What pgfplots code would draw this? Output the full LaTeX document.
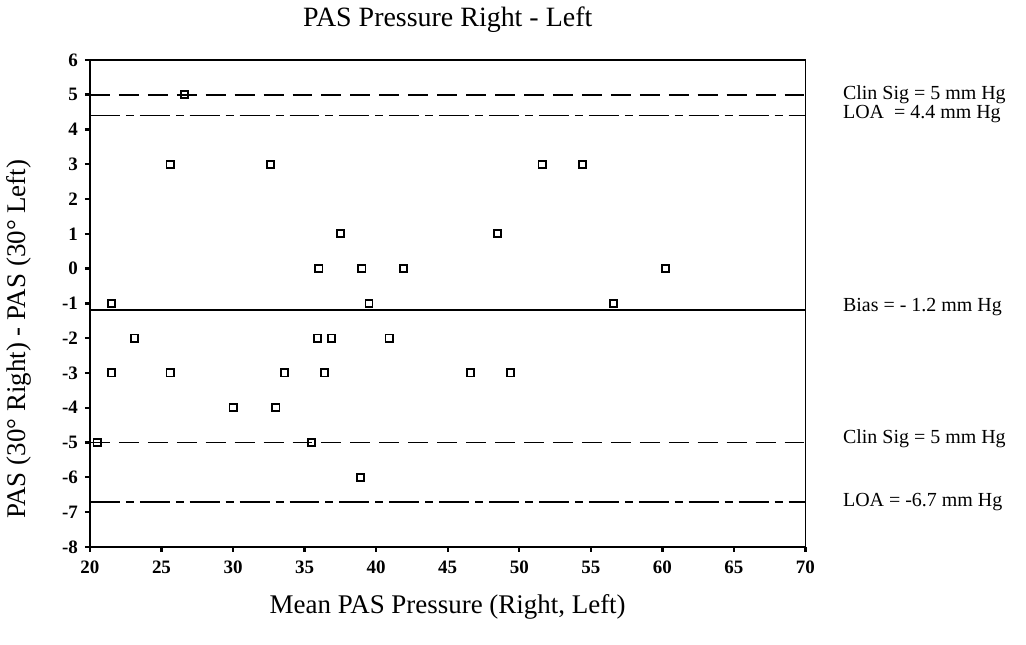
\documentclass[border=0pt]{standalone}
\usepackage{fontspec}
\setmainfont{Liberation Serif}
\usepackage{pgfplots}
\pgfplotsset{compat=1.18}
\usetikzlibrary{calc}

\pgfplotstableread{
x y
26.6 5
25.6 3
32.6 3
51.6 3
54.4 3
37.5 1
48.5 1
36.0 0
39.0 0
41.9 0
60.2 0
21.5 -1
39.5 -1
56.6 -1
23.1 -2
35.9 -2
36.9 -2
40.9 -2
21.5 -3
25.6 -3
33.6 -3
36.4 -3
46.6 -3
49.4 -3
30.0 -4
33.0 -4
20.5 -5
35.5 -5
38.9 -6
}\diffs

\begin{document}
\begin{tikzpicture}
\begin{axis}[
  scale only axis,
  width=358.5pt, height=244pt,
  xmin=20, xmax=70, ymin=-8, ymax=6,
  xtick={20,25,...,70},
  ytick={-8,-7,...,6},
  axis line style={line width=0.9pt},
  tick style={line width=1.2pt, black},
  major tick length=2.5pt,
  tick align=outside,
  xtick pos=bottom, ytick pos=left,
  /pgf/number format/assume math mode=true,
  tick label style={font=\fontsize{9.5}{11}\selectfont\bfseries},
  xticklabel style={yshift=-1pt},
  title={PAS Pressure Right - Left},
  title style={font=\fontsize{14}{16}\selectfont, yshift=4pt},
  xlabel={Mean PAS Pressure (Right, Left)},
  xlabel style={font=\fontsize{13.5}{15}\selectfont, yshift=-3.5pt},
  ylabel={PAS (30° Right) - PAS (30° Left)},
  ylabel style={font=\fontsize{13.5}{15}\selectfont, yshift=8.5pt, xshift=-18pt},
  clip=false,
]
\addplot[only marks, mark=square, mark size=1.8pt, line width=0.9pt] table[x=x,y=y] {\diffs};
\addplot[line width=0.9pt, dash pattern=on 10pt off 4.5pt] coordinates {(20,5) (70,5)};
\addplot[line width=0.9pt, dash pattern=on 15pt off 3pt on 4pt off 3pt] coordinates {(20,4.4) (70,4.4)};
\addplot[line width=0.9pt] coordinates {(20,-1.2) (70,-1.2)};
\addplot[line width=0.9pt, dash pattern=on 10pt off 4.5pt] coordinates {(20,-5) (70,-5)};
\addplot[line width=0.9pt, dash pattern=on 15pt off 3pt on 4pt off 3pt] coordinates {(20,-6.7) (70,-6.7)};
\begin{scope}[font=\fontsize{10}{11}\selectfont]
\node[anchor=west, inner sep=0pt] at (axis cs:72.6,5.0) {Clin Sig = 5 mm Hg};
\node[anchor=west, inner sep=0pt] at (axis cs:72.6,4.45) {LOA \ = 4.4 mm Hg};
\node[anchor=west, inner sep=0pt] at (axis cs:72.6,-1.1) {Bias = - 1.2 mm Hg};
\node[anchor=west, inner sep=0pt] at (axis cs:72.6,-4.9) {Clin Sig = 5 mm Hg};
\node[anchor=west, inner sep=0pt] at (axis cs:72.6,-6.7) {LOA = -6.7 mm Hg};
\end{scope}
\end{axis}
\path[use as bounding box] ($(current axis.south west)+(-44pt,-49pt)$) rectangle ($(current axis.north east)+(110.5pt,30pt)$);
\end{tikzpicture}
\end{document}
